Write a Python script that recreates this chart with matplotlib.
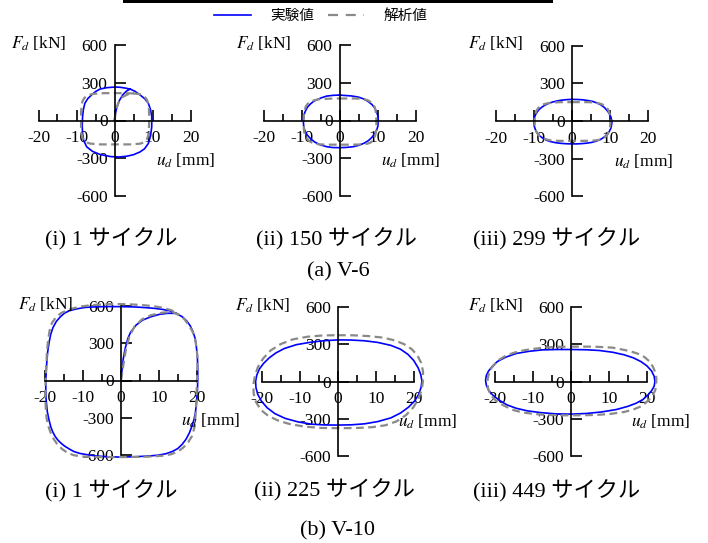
import matplotlib
matplotlib.use("Agg")
import matplotlib.pyplot as plt
from matplotlib.lines import Line2D
from matplotlib.patches import Rectangle

plt.rcParams["font.family"] = ["Liberation Serif", "Noto Sans CJK JP"]
plt.rcParams["mathtext.fontset"] = "stix"
plt.rcParams["axes.unicode_minus"] = False

# ---------------- data: hysteresis loops, (u_d [mm], F_d [kN]) pairs ----------------
# V-6, cycle 1
v6_c1_exp = [(0, 0), (0.2, 50), (0.6, 105), (1.3, 160), (2.2, 205), (3.2, 235), (4.1, 250),
             (5.4, 232), (6.7, 204), (8.0, 172), (8.9, 137), (9.5, 85), (9.8, 30), (9.8, -50),
             (9.5, -120), (8.9, -183), (7.9, -225), (6.7, -250), (5.0, -272), (3.2, -284), (1.2, -290),
             (-1.0, -287), (-3.8, -270), (-5.8, -245), (-7.3, -210), (-8.1, -160), (-8.4, -103),
             (-8.5, -35), (-8.4, 30), (-8.2, 85), (-7.8, 137), (-7.0, 175), (-6.0, 204), (-5.0, 230),
             (-3.8, 250), (-2.0, 261), (0.1, 266), (1.5, 264), (2.8, 258), (4.1, 250)]
v6_c1_ana = [(0, 0), (0.4, 80), (1.0, 140), (2.0, 185), (3.5, 208), (5.0, 215), (6.5, 210), (7.3, 202),
             (7.8, 190), (8.3, 175), (8.6, 160), (8.9, 135), (9.0, 110), (9.1, 75), (9.1, 40), (9.1, 0),
             (9.1, -40), (9.0, -75), (9.0, -100), (8.8, -125), (8.6, -145), (8.2, -160), (7.8, -172),
             (7.2, -180), (6.5, -185), (4, -190), (0, -190), (-4, -190), (-6.5, -183), (-7.2, -175),
             (-7.8, -165), (-8.2, -150), (-8.5, -130), (-8.7, -100), (-8.8, -70), (-8.8, -35), (-8.8, 0),
             (-8.8, 35), (-8.8, 70), (-8.7, 100), (-8.6, 130), (-8.4, 155), (-8.0, 175), (-7.6, 190),
             (-7.0, 200), (-6.3, 207), (-5.5, 212), (-3, 217), (0, 218), (3, 217), (5, 215)]

# V-6, cycle 150
v6_c150_exp = [(0, 202), (3.2, 195), (5.0, 186), (6.3, 172), (7.5, 152), (8.5, 128), (9.2, 102),
               (9.7, 72), (10.1, 38), (10.2, 5), (10.1, -45), (9.8, -75), (9.3, -105), (8.5, -135),
               (7.6, -160), (6.5, -180), (5.2, -196), (3.7, -208), (1.8, -214), (0, -216), (-1.8, -215),
               (-3.4, -208), (-5.1, -193), (-6.5, -172), (-7.6, -145), (-8.5, -115), (-9.1, -82),
               (-9.4, -50), (-9.5, -15), (-9.5, 15), (-9.3, 50), (-8.9, 80), (-8.4, 107), (-7.7, 130),
               (-6.9, 150), (-6.0, 165), (-4.8, 180), (-3.4, 194), (-1.7, 200), (0, 202)]
v6_c150_ana = [(0, 175), (2, 175), (4, 175), (5.5, 173), (6.5, 170), (7.5, 160), (8.3, 145), (8.9, 125),
               (9.3, 105), (9.5, 80), (9.6, 50), (9.7, 15), (9.7, -20), (9.7, -55), (9.6, -90),
               (9.4, -118), (9.2, -140), (8.8, -160), (8.2, -175), (7.4, -184), (6.5, -188), (5, -191),
               (3, -192), (0, -192), (-3, -192), (-5, -190), (-6, -187), (-7.1, -178), (-7.9, -165),
               (-8.5, -145), (-9.0, -120), (-9.3, -90), (-9.4, -60), (-9.4, -30), (-9.4, 0), (-9.4, 30),
               (-9.3, 60), (-9.1, 90), (-8.8, 115), (-8.3, 135), (-7.6, 150), (-6.6, 161), (-5.5, 168),
               (-4, 172), (-2, 174), (0, 175)]

# V-6, cycle 299
v6_c299_exp = [(0, 172), (1.5, 171), (3, 168), (4.3, 162), (5.5, 155), (6.6, 143), (7.6, 128), (8.5, 108),
               (9.2, 85), (9.8, 60), (10.2, 35), (10.4, 12), (10.5, -10), (10.4, -35), (10.2, -60),
               (9.8, -83), (9.3, -105), (8.5, -127), (7.6, -145), (6.5, -159), (5.2, -170), (3.9, -176),
               (2.5, -180), (1.2, -182), (0, -182), (-1.4, -181), (-2.8, -178), (-4.2, -173), (-5.5, -165),
               (-6.7, -153), (-7.6, -138), (-8.5, -118), (-9.2, -95), (-9.6, -70), (-9.9, -45),
               (-10, -22), (-10, 0), (-9.9, 25), (-9.6, 50), (-9.2, 70), (-8.7, 90), (-8.0, 108),
               (-7.2, 125), (-6.3, 138), (-5.2, 150), (-4, 159), (-2.7, 166), (-1.3, 170), (0, 172)]
v6_c299_ana = [(0, 150), (2, 150), (4, 150), (5.5, 148), (6.8, 143), (7.9, 133), (8.8, 118), (9.4, 96),
               (9.8, 70), (10.0, 40), (10.1, 10), (10.1, -20), (10.0, -50), (9.8, -75), (9.5, -100),
               (9.0, -120), (8.3, -138), (7.3, -149), (6, -155), (4.5, -157), (3, -158), (0, -158),
               (-3, -158), (-4.5, -157), (-6, -152), (-7.1, -143), (-8.0, -130), (-8.8, -112), (-9.3, -90),
               (-9.6, -60), (-9.8, -30), (-9.8, 0), (-9.8, 30), (-9.6, 57), (-9.4, 80), (-8.9, 102),
               (-8.3, 120), (-7.4, 133), (-6.3, 142), (-5, 147), (-3, 150), (0, 150)]

# V-10, cycle 1
v10_c1_exp = [(0, 0), (0.3, 94), (0.6, 175), (1.1, 256), (1.8, 337), (2.6, 391), (4.0, 445), (5.7, 485),
              (7.9, 512), (10.1, 531), (12.4, 540), (14.6, 539), (16.2, 512), (17.4, 478), (18.3, 440),
              (19.0, 395), (19.6, 340), (19.9, 280), (20.2, 200), (20.3, 100), (20.3, 0), (20.2, -90),
              (20.0, -170), (19.7, -256), (19.3, -315), (18.8, -364), (18.1, -420), (17.2, -472),
              (16.2, -512), (15.0, -547), (13.6, -570), (11.9, -588), (9.8, -600), (7.5, -606), (4, -612),
              (0, -615), (-3.5, -613), (-6.6, -606), (-9, -596), (-11.0, -585), (-12.5, -570),
              (-13.8, -548), (-15.0, -525), (-16.0, -500), (-16.8, -475), (-17.5, -445), (-18.1, -410),
              (-18.6, -370), (-19.1, -310), (-19.5, -250), (-19.8, -160), (-19.9, -80), (-19.9, 0),
              (-19.7, 120), (-19.4, 230), (-19.0, 310), (-18.6, 370), (-18.0, 425), (-17.1, 475),
              (-16.1, 510), (-15.0, 540), (-13.7, 560), (-11.8, 575), (-9.5, 587), (-6.5, 592), (-3, 594),
              (0, 593), (3.5, 591), (6.6, 585), (9, 579), (11.0, 571), (12.9, 560), (14.6, 539)]
v10_c1_ana = [(0, 0), (0.6, 120), (1.3, 250), (2.2, 350), (3.5, 430), (5.5, 490), (8.0, 525), (11.0, 545),
              (13.5, 552), (15.4, 526), (16.7, 495), (17.8, 450), (18.8, 400), (19.5, 350), (19.9, 280),
              (20.2, 200), (20.2, 100), (20.1, 0), (20.0, -100), (19.9, -200), (19.7, -290), (19.4, -380),
              (18.8, -445), (17.8, -495), (16.5, -538), (15.2, -568), (13.3, -592), (10.8, -605),
              (7, -612), (3.5, -614), (0, -615), (-4, -615), (-8, -614), (-10.5, -610), (-12.5, -600),
              (-14.2, -580), (-15.6, -550), (-16.8, -515), (-17.8, -470), (-18.6, -420), (-19.3, -360),
              (-19.7, -300), (-19.9, -220), (-20.0, -140), (-20.0, -60), (-19.9, 40), (-19.7, 140),
              (-19.6, 230), (-19.3, 320), (-18.9, 400), (-18.3, 460), (-17.3, 505), (-15.9, 540),
              (-14.4, 563), (-12.6, 580), (-11, 592), (-8.5, 603), (-6, 609), (-3, 613), (0, 614),
              (3.5, 610), (6.6, 603), (9, 595), (11, 585), (13.5, 562), (15.4, 526)]

# V-10, cycle 225
v10_c225_exp = [(0, 334), (3.5, 333), (7, 327), (10.5, 314), (14, 290), (16.5, 260), (18.5, 218),
                (20, 170), (21.2, 110), (21.9, 55), (22.2, 5), (22.0, -45), (21.4, -100), (20.3, -155),
                (18.7, -205), (16.6, -252), (14, -292), (10.5, -322), (7, -340), (3.5, -348), (0, -350),
                (-3.5, -349), (-7, -343), (-10.5, -325), (-14, -296), (-16.7, -258), (-18.7, -212),
                (-20.2, -160), (-21.2, -105), (-21.7, -50), (-21.8, 0), (-21.5, 50), (-20.8, 100),
                (-19.7, 145), (-18.2, 190), (-16.4, 230), (-14.2, 265), (-11, 296), (-7.3, 315),
                (-3.6, 328), (0, 334)]
v10_c225_ana = [(0, 372), (4, 371), (8, 365), (12, 352), (15, 330), (17.5, 300), (19.5, 260), (21, 210),
                (22, 150), (22.5, 80), (22.5, 10), (22.2, -60), (21.3, -135), (20, -205), (18, -270),
                (15.5, -320), (12.5, -352), (9, -367), (4.5, -374), (0, -375), (-4.5, -373), (-9, -362),
                (-13, -340), (-16, -312), (-18.5, -275), (-20.4, -228), (-21.7, -165), (-22.3, -98),
                (-22.4, -28), (-22, 42), (-21.2, 115), (-19.8, 185), (-17.8, 250), (-15.2, 300),
                (-12, 338), (-8, 360), (-4, 370), (0, 372)]

# V-10, cycle 449
v10_c449_exp = [(0, 257), (4, 255), (7.5, 249), (11, 235), (14, 215), (16.5, 190), (18.5, 160),
                (20.1, 125), (21.3, 85), (22.0, 42), (22.2, 0), (22.0, -38), (21.3, -75), (20.3, -110),
                (19, -145), (17.2, -175), (15, -200), (12, -225), (8, -245), (4, -257), (0, -262),
                (-4, -260), (-8, -250), (-11.5, -236), (-14.5, -215), (-17, -187), (-19, -150),
                (-20.6, -112), (-21.8, -70), (-22.4, -30), (-22.6, 10), (-22.4, 48), (-21.8, 85),
                (-20.8, 122), (-19.5, 160), (-17.3, 195), (-14.5, 225), (-11, 243), (-7.5, 254),
                (-3.7, 257), (0, 257)]
v10_c449_ana = [(0, 280), (6, 280), (11, 272), (15.5, 245), (18, 220), (19.5, 195), (21, 155), (21.8, 110),
                (22.4, 65), (22.6, 20), (22.5, -25), (22.3, -70), (21.6, -110), (20.8, -140), (19.8, -170),
                (18.5, -200), (16.5, -225), (14, -245), (10.5, -260), (7, -268), (3.5, -271), (0, -272),
                (-3.5, -271), (-7, -268), (-10, -260), (-12.5, -250), (-15, -232), (-16.5, -212),
                (-18.3, -185), (-20, -150), (-21.2, -110), (-21.9, -60), (-22.1, -15), (-22, 30),
                (-21.6, 75), (-21, 110), (-20, 145), (-19, 175), (-17.2, 208), (-15, 232), (-12.5, 250),
                (-10, 262), (-7, 272), (-4, 278), (0, 280)]

# ticks and labels
x_major = [-20, -10, 0, 10, 20]
x_major_labels = ["-20", "-10", "0", "10", "20"]
x_minor = [-15, -5, 5, 15]
y_major = [-600, -300, 0, 300, 600]
y_major_labels = ["-600", "-300", "0", "300", "600"]

captions_top = ["(i) 1 サイクル", "(ii) 150 サイクル", "(iii) 299 サイクル"]
captions_bottom = ["(i) 1 サイクル", "(ii) 225 サイクル", "(iii) 449 サイクル"]
group_titles = ["(a) V-6", "(b) V-10"]
legend_labels = ["実験値", "解析値"]

# ---------------- figure ----------------
W, H = 708, 543
fig = plt.figure(figsize=(W / 100, H / 100), dpi=100)

BLUE = "#0000ff"
GRAY = "#8a8a8a"
DASH = (0, (3.5, 2.0))
XL, YL = 25.0, 650.0


def px(x, y):
    return x / W, 1 - y / H


def make_axes(cx, cy, sx, sy, exp, ana, ulabel_x):
    left = (cx - XL * sx) / W
    bottom = (H - (cy + YL * sy)) / H
    ax = fig.add_axes([left, bottom, 2 * XL * sx / W, 2 * YL * sy / H])
    ax.set_xlim(-XL, XL)
    ax.set_ylim(-YL, YL)
    ax.patch.set_visible(False)
    for s in ("top", "right"):
        ax.spines[s].set_visible(False)
    for s in ("left", "bottom"):
        ax.spines[s].set_position("zero")
        ax.spines[s].set_linewidth(1.2)
    ax.spines["left"].set_bounds(-600, 600)
    ax.spines["bottom"].set_bounds(-20, 20)
    ax.set_xticks(x_major)
    ax.set_xticklabels(x_major_labels)
    ax.set_xticks(x_minor, minor=True)
    ax.set_yticks(y_major)
    ax.set_yticklabels(y_major_labels)
    ax.tick_params(axis="x", which="major", direction="in", length=8, width=1.2, pad=7, labelsize=12.5)
    ax.tick_params(axis="x", which="minor", direction="in", length=5, width=1.2)
    ax.tick_params(axis="y", which="major", direction="in", length=8, width=1.2, pad=5, labelsize=12.5)

    eu, ef = zip(*exp)
    au, af = zip(*ana)
    ax.plot(eu, ef, color=BLUE, lw=1.2, clip_on=False, solid_joinstyle="round")
    ax.plot(au, af, color=GRAY, lw=1.6, ls=DASH, clip_on=False)

    ax.text(-12.7, 610, r"$F_d$ [kN]", ha="right", va="center", fontsize=12.5)
    ax.text(ulabel_x, -322, r"$u_d$ [mm]", ha="left", va="center", fontsize=12.5)
    return ax


make_axes(114.5, 120.5, 3.8, 0.1258, v6_c1_exp, v6_c1_ana, 11)
make_axes(339.5, 120.5, 3.8, 0.1258, v6_c150_exp, v6_c150_ana, 11)
make_axes(572.0, 121.0, 3.8, 0.1258, v6_c299_exp, v6_c299_ana, 11)
make_axes(121.0, 380.5, 3.78, 0.1245, v10_c1_exp, v10_c1_ana, 16)
make_axes(338.0, 381.5, 3.78, 0.1245, v10_c225_exp, v10_c225_ana, 16)
make_axes(571.0, 381.5, 3.78, 0.1245, v10_c449_exp, v10_c449_ana, 16)

# captions
for (x, y), t in zip([(111, 239), (336, 239), (557, 239)], captions_top):
    fig.text(*px(x, y), t, ha="center", va="center", fontsize=16)
for (x, y), t in zip([(111, 491), (335, 490), (557, 491)], captions_bottom):
    fig.text(*px(x, y), t, ha="center", va="center", fontsize=16)
fig.text(*px(338, 272), group_titles[0], ha="center", va="center", fontsize=16)
fig.text(*px(338, 531), group_titles[1], ha="center", va="center", fontsize=16)

# legend
handles = [Line2D([], [], color=BLUE, lw=1.2),
           Line2D([], [], color=GRAY, lw=1.6, ls=(0, (4.5, 3.5)))]
fig.legend(handles, legend_labels, loc="center", bbox_to_anchor=px(321, 16), ncol=2, frameon=False,
           fontsize=10.5, handlelength=2.5, handletextpad=1.35, columnspacing=0.9,
           borderpad=0, borderaxespad=0)

# top rule
fig.add_artist(Rectangle(px(123, 3.3), (553 - 123) / W, 3.3 / H, transform=fig.transFigure,
                         facecolor="black", edgecolor="none"))

fig.savefig("out.png", dpi=100)
